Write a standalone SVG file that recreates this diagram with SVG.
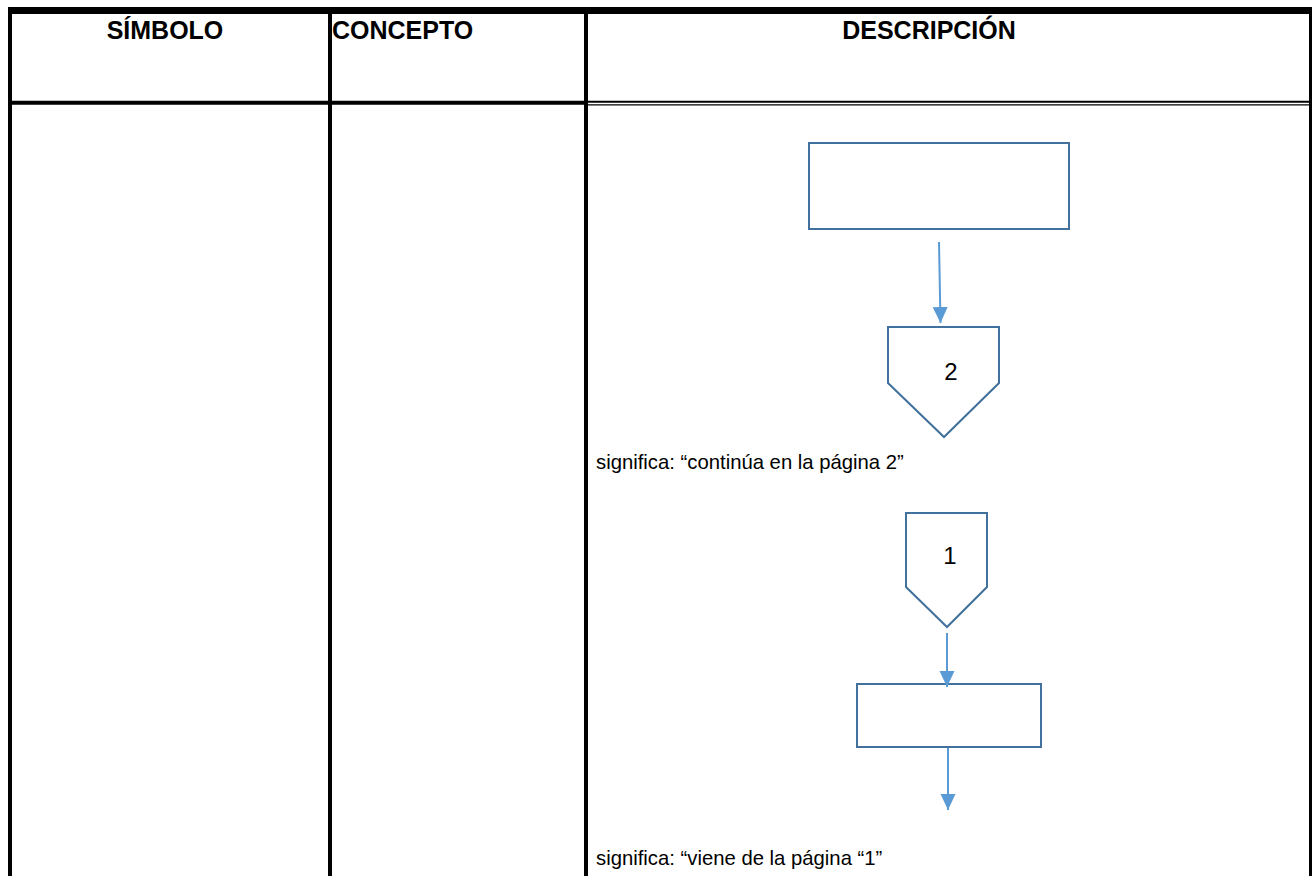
<svg xmlns="http://www.w3.org/2000/svg" width="1312" height="876" viewBox="0 0 1312 876">
<style>
.hdr{font-family:"Liberation Sans",Arial,sans-serif;font-weight:bold;font-size:25px;fill:#000}
.body{font-family:"Liberation Sans",Arial,sans-serif;font-size:20.3px;fill:#000}
.num{font-family:"Liberation Sans",Arial,sans-serif;font-size:24px;fill:#000;text-anchor:middle}
.shape{fill:#fff;stroke:#41719C;stroke-width:2}
.conn{stroke:#5B9BD5;stroke-width:2;fill:none}
.grid{stroke:#000;fill:none}
</style>
<defs>
<marker id="ah" markerUnits="userSpaceOnUse" markerWidth="16" markerHeight="16" viewBox="0 0 16 16" refX="16" refY="8" orient="auto">
<path d="M0,0.5 L16,8 L0,15.5 Z" fill="#5B9BD5"/>
</marker>
</defs>
<rect width="1312" height="876" fill="#fff"/>
<g id="table">
<rect x="8" y="7" width="1302" height="7" fill="#000"/>
<line class="grid" x1="10" y1="7" x2="10" y2="876" stroke-width="4"/>
<line class="grid" x1="330" y1="7" x2="330" y2="876" stroke-width="4"/>
<line class="grid" x1="586" y1="7" x2="586" y2="876" stroke-width="4"/>
<line class="grid" x1="1310.5" y1="7" x2="1310.5" y2="876" stroke-width="3"/>
<line class="grid" x1="8" y1="102.7" x2="588" y2="102.7" stroke-width="4"/>
<line class="grid" x1="588" y1="101.8" x2="1310" y2="101.8" stroke-width="2"/>
<line class="grid" x1="588" y1="104.8" x2="1310" y2="104.8" stroke-width="1.2"/>
<text class="hdr" x="165" y="38.5" text-anchor="middle">SÍMBOLO</text>
<text class="hdr" x="332" y="38.5">CONCEPTO</text>
<text class="hdr" x="929" y="38.5" text-anchor="middle">DESCRIPCIÓN</text>
</g>
<g id="process1"><rect class="shape" x="809" y="143" width="260" height="86"/></g>
<g id="offpage2">
<polygon class="shape" points="888,327 999,327 999,383 944,437 888,383"/>
<text class="num" x="951" y="380">2</text>
</g>
<g id="label1"><text class="body" x="596" y="469">significa: “continúa en la página 2”</text></g>
<g id="offpage1">
<polygon class="shape" points="906,513 987,513 987,587 947,627 906,587"/>
<text class="num" x="950" y="564">1</text>
</g>
<g id="process2"><rect class="shape" x="857" y="684" width="184" height="63"/></g>
<g id="label2"><text class="body" x="596" y="865">significa: “viene de la página “1”</text></g>
<g id="connectors">
<line class="conn" x1="939" y1="242" x2="940.5" y2="323" marker-end="url(#ah)"/>
<line class="conn" x1="947" y1="633" x2="947" y2="687" marker-end="url(#ah)"/>
<line class="conn" x1="948" y1="748" x2="948" y2="810" marker-end="url(#ah)"/>
</g>
</svg>
